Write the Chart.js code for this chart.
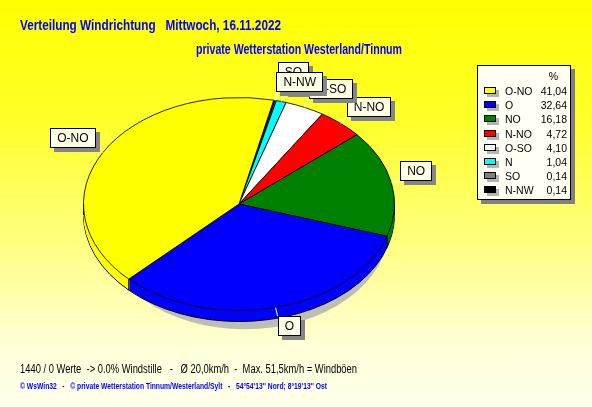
<!DOCTYPE html>
<html lang="de">
<head>
  <meta charset="UTF-8">
  <script src="https://cdn.jsdelivr.net/npm/chart.js"></script>
  <title>Verteilung Windrichtung | Westerland/Tinnum</title>
  <style>
    body { margin: 0; }
    #wrap {
      position: relative; width: 592px; height: 407px; overflow: hidden;
      background: linear-gradient(to bottom, #ffff00 0%, #ffff2a 30%, #ffff80 60%, #ffffd8 85%, #ffffec 100%);
      font-family: "Liberation Sans", Arial, sans-serif;
    }
    #grafik { position: absolute; left: 0; top: 0; }
    .txt { position: absolute; white-space: pre; line-height: 1; transform-origin: 0 0; }
    .titel { color: #0000ff; font-weight: bold; font-size: 14px; }
    .fuss { color: #000; font-size: 12px; }
    .copy { color: #0000ff; font-weight: bold; font-size: 8.5px; }
    #legende {
      position: absolute; left: 477px; top: 65px; width: 92px; height: 133px;
      background: #fffff4; border: 1px solid #000; box-shadow: 4px 4px 0 #808080;
      font-size: 10.5px; color: #000;
    }
    .zeile { position: absolute; left: 0; width: 92px; height: 14px; line-height: 14px; }
    .farbe { position: absolute; left: 6px; top: 3px; width: 10px; height: 5px; border: 1px solid #000; box-shadow: 3px 3px 0 #b4b4b4; }
    .name { position: absolute; left: 27px; }
    .wert { position: absolute; right: 3px; }
    .lbl {
      position: absolute; background: #ffffe6; border: 1px solid #000;
      box-shadow: 4px 4px 0 #858585; font-size: 12px; height: 18px; line-height: 18px;
      padding: 0 6px; white-space: nowrap; color: #000;
    }
  </style>
</head>

<body>
  <div id="wrap">
    <canvas id="grafik" width="592" height="407"></canvas>
    <div class="txt titel" style="left:20px; top:18px" data-w="261">Verteilung Windrichtung   Mittwoch, 16.11.2022</div>
    <div class="txt titel" style="left:196px; top:42px" data-w="206">private Wetterstation Westerland/Tinnum</div>
    <div class="txt fuss" style="left:20px; top:363px" data-w="337">1440 / 0 Werte  -&gt; 0.0% Windstille   -   Ø 20,0km/h  -  Max. 51,5km/h = Windböen</div>
    <div class="txt copy" style="left:20px; top:382px" data-w="307">© WsWin32   -   © private Wetterstation Tinnum/Westerland/Sylt   -   54°54'13'' Nord; 8°19'13'' Ost</div>
    <div id="legende"></div>
  </div>

  <script>
    // Daten aus der Grafik (Anteile in %)
    var richtungen = ['O-NO', 'O', 'NO', 'N-NO', 'O-SO', 'N', 'SO', 'N-NW'];
    var anteile = [41.04, 32.64, 16.18, 4.72, 4.10, 1.04, 0.14, 0.14];
    var farben = ['#ffff00', '#0000ff', '#008000', '#ff0000', '#ffffff', '#00ffff', '#808080', '#000000'];

    var K = 0.685;     // Ellipse: Hoehe / Breite
    var TIEFE = 11;    // 3D-Tiefe in px

    // Legende
    var legende = document.getElementById('legende');
    var kopf = document.createElement('div');
    kopf.className = 'zeile';
    kopf.style.top = '3px';
    kopf.innerHTML = '<span class="wert" style="right:12px">%</span>';
    legende.appendChild(kopf);
    for (var i = 0; i < richtungen.length; i++) {
      var z = document.createElement('div');
      z.className = 'zeile';
      z.style.top = (18 + i * 14.2) + 'px';
      z.innerHTML = '<span class="farbe" style="background:' + farben[i] + '"></span>' +
        '<span class="name">' + richtungen[i] + '</span>' +
        '<span class="wert">' + anteile[i].toFixed(2).replace('.', ',') + '</span>';
      legende.appendChild(z);
    }

    // Texte auf Breite bringen
    document.querySelectorAll('[data-w]').forEach(function (el) {
      var w = el.getBoundingClientRect().width;
      el.style.transform = 'scaleX(' + (Number(el.dataset.w) / w) + ')';
    });

    // Kreis gegen den Uhrzeigersinn -> Reihenfolge umdrehen
    var labelsRev = richtungen.slice().reverse();
    var datenRev = anteile.slice().reverse();
    var farbenRev = farben.slice().reverse();

    var labelsGemacht = false;

    function ueberlappung(a, b) {
      var w = Math.min(a.x2, b.x2) - Math.max(a.x1, b.x1);
      var h = Math.min(a.y2, b.y2) - Math.max(a.y1, b.y1);
      return (w > 0 && h > 0) ? w * h : 0;
    }

    var torte3d = {
      id: 'torte3d',
      beforeDatasetsDraw: function (chart) {
        var ctx = chart.ctx;
        var arcs = chart.getDatasetMeta(0).data;
        var cx = arcs[0].x, cy = arcs[0].y, r = arcs[0].outerRadius;
        ctx.save();
        // Schatten
        ctx.fillStyle = '#bdbdb4';
        ctx.beginPath();
        ctx.ellipse(cx + 6, cy + TIEFE + 11, r * 0.93, r * K * 0.97, 0, 0, 2 * Math.PI);
        ctx.fill();
        // Seitenwand
        for (var d = TIEFE; d >= 1; d--) {
          arcs.forEach(function (a) {
            ctx.beginPath();
            ctx.moveTo(cx, cy + d);
            ctx.ellipse(cx, cy + d, r, r * K, 0, a.startAngle, a.endAngle);
            ctx.closePath();
            ctx.fillStyle = a.options.backgroundColor;
            ctx.fill();
          });
          if (d === TIEFE) {
            ctx.beginPath();
            ctx.ellipse(cx, cy + d, r, r * K, 0, 0, Math.PI);
            ctx.strokeStyle = '#000';
            ctx.lineWidth = 1;
            ctx.stroke();
          }
        }
        // Kanten an der Vorderseite
        ctx.strokeStyle = '#000';
        ctx.lineWidth = 1;
        var kanten = [0, Math.PI];
        arcs.forEach(function (a) { kanten.push(a.startAngle); });
        kanten.forEach(function (w) {
          if (Math.sin(w) < -0.001) return;
          var x = cx + r * Math.cos(w), y = cy + r * K * Math.sin(w);
          ctx.beginPath();
          ctx.moveTo(x, y);
          ctx.lineTo(x, y + TIEFE);
          ctx.stroke();
        });
        ctx.restore();
        // Oberseite gestaucht zeichnen
        ctx.save();
        ctx.translate(cx, cy);
        ctx.scale(1, K);
        ctx.translate(-cx, -cy);
      },
      afterDatasetsDraw: function (chart) {
        var ctx = chart.ctx;
        ctx.restore();
        var arcs = chart.getDatasetMeta(0).data;
        var cx = arcs[0].x, cy = arcs[0].y, r = arcs[0].outerRadius;
        var wrap = document.getElementById('wrap');
        var boxen = [];
        arcs.forEach(function (a, i) {
          var m = (a.startAngle + a.endAngle) / 2;
          var ex = cx + r * Math.cos(m), ey = cy + r * K * Math.sin(m);
          var ax = ex + 9 * Math.cos(m), ay = ey + 9 * Math.sin(m);
          ctx.save();
          ctx.strokeStyle = '#ffffff';
          ctx.lineWidth = 1;
          ctx.beginPath();
          ctx.moveTo(ex, ey);
          ctx.lineTo(ax, ay);
          ctx.stroke();
          ctx.restore();
          boxen.push({ name: chart.data.labels[i], ax: ax, ay: ay, m: m });
        });
        if (labelsGemacht) return;
        labelsGemacht = true;
        // in Legendenreihenfolge, letzte liegt oben
        var platziert = [];
        richtungen.forEach(function (n, j) {
          var b = boxen.filter(function (q) { return q.name === n; })[0];
          var el = document.createElement('div');
          el.className = 'lbl';
          el.textContent = n;
          el.style.zIndex = 10 + j;
          wrap.appendChild(el);
          var w = el.offsetWidth, h = el.offsetHeight;
          var x = Math.cos(b.m) >= 0 ? b.ax : b.ax - w;
          var y = Math.sin(b.m) >= 0 ? b.ay : b.ay - h;
          // fast verdeckte Kaesten etwas nach oben schieben
          for (var t = 0; t < 5; t++) {
            var r1 = { x1: x, y1: y, x2: x + w, y2: y + h };
            var zuviel = platziert.some(function (p) { return ueberlappung(r1, p) > 0.6 * w * h; });
            if (!zuviel) break;
            y -= 10;
          }
          platziert.push({ x1: x, y1: y, x2: x + w, y2: y + h });
          el.style.left = x + 'px';
          el.style.top = y + 'px';
        });
      }
    };

    var ctx = document.getElementById('grafik').getContext('2d');
    var torte = new Chart(ctx, {
      type: 'pie',
      data: {
        labels: labelsRev,
        datasets: [{
          data: datenRev,
          backgroundColor: farbenRev,
          borderColor: '#000000',
          borderWidth: 1
        }]
      },
      options: {
        responsive: false,
        animation: false,
        rotation: 12.9,
        layout: { padding: { left: 83, top: 48, right: 197, bottom: 47 } },
        plugins: { legend: { display: false }, tooltip: { enabled: false } }
      },
      plugins: [torte3d]
    });
  </script>
</body>

</html>
